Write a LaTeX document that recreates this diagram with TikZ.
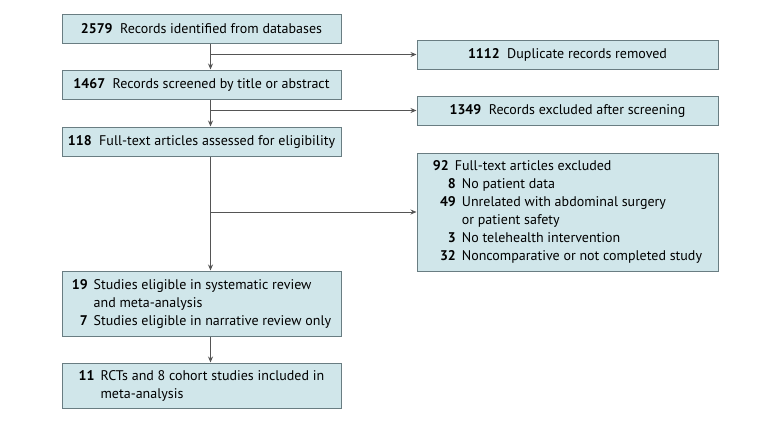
\documentclass[tikz,border=0pt]{standalone}
\usepackage{fontspec}
\setmainfont{PT Sans}
\usetikzlibrary{arrows.meta}
\definecolor{boxfill}{RGB}{208,230,234}
\definecolor{boxdraw}{RGB}{105,125,130}
\definecolor{linec}{RGB}{85,85,85}
\begin{document}
\begin{tikzpicture}[x=1pt,y=-1pt,
  box/.style={draw=boxdraw,fill=boxfill,line width=1pt,inner sep=0pt,
    font=\fontsize{14}{18}\selectfont,align=center},
  lbox/.style={box,minimum width=279pt},
  rbox/.style={box,minimum width=301pt},
  conn/.style={draw=linec,line width=0.9pt,-{Stealth[length=6pt,width=5pt]}},
  plain/.style={draw=linec,line width=0.9pt}]
\useasboundingbox (0,0) rectangle (780,432);
\node[lbox,minimum height=29pt] (b1) at (201.5,28.5) {\textbf{2579}\ \ Records identified from databases};
\node[lbox,minimum height=29pt] (b2) at (201.5,84.5) {\textbf{1467}\ \ Records screened by title or abstract};
\node[lbox,minimum height=29pt] (b3) at (201.5,141.5) {\textbf{118}\ \ Full-text articles assessed for eligibility};
\node[lbox,minimum height=65pt] (b4) at (201.5,303.5) {\begin{tabular}{@{}r@{\hspace{6pt}}l@{}}
\textbf{19} & Studies eligible in systematic review\\
 & and meta-analysis\\
\textbf{7} & Studies eligible in narrative review only
\end{tabular}};
\node[lbox,minimum height=45pt] (b5) at (201.5,385.5) {\begin{tabular}{@{}r@{\hspace{6pt}}l@{}}
\textbf{11} & RCTs and 8 cohort studies included in\\
 & meta-analysis
\end{tabular}};
\node[rbox,minimum height=29pt] (r1) at (567.5,54.5) {\textbf{1112}\ \ Duplicate records removed};
\node[rbox,minimum height=29pt] (r2) at (567.5,110.5) {\textbf{1349}\ \ Records excluded after screening};
\node[rbox,minimum height=118pt] (r3) at (567.5,212) {\begin{tabular}{@{}r@{\hspace{6pt}}l@{}}
\multicolumn{2}{@{}l@{}}{\textbf{92}\hspace{6pt}Full-text articles excluded}\\
\hspace{15pt}\textbf{8} & No patient data\\
\textbf{49} & Unrelated with abdominal surgery\\
 & or patient safety\\
\textbf{3} & No telehealth intervention\\
\textbf{32} & Noncomparative or not completed study
\end{tabular}};
\coordinate (sp) at (210.5,0);
\draw[conn] (b1.south -| sp) -- (b2.north -| sp);
\draw[conn] (b2.south -| sp) -- (b3.north -| sp);
\draw[conn] (b3.south -| sp) -- (b4.north -| sp);
\draw[conn] (b4.south -| sp) -- (b5.north -| sp);
\draw[conn] (sp |- r1.west) -- (r1.west);
\draw[conn] (sp |- r2.west) -- (r2.west);
\draw[conn] (sp |- r3.west) -- (r3.west);
\end{tikzpicture}
\end{document}
